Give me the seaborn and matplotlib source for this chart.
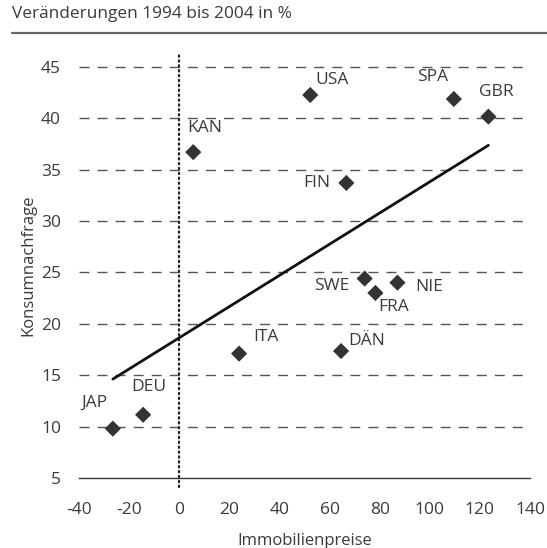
import matplotlib
matplotlib.use("Agg")
import matplotlib.pyplot as plt
import seaborn as sns
import numpy as np
import pandas as pd

countries = ["JAP", "DEU", "ITA", "KAN", "USA", "SPA", "GBR", "FIN", "SWE", "FRA", "NIE", "DÄN"]
immobilienpreise = [-26.5, -14.4, 23.9, 5.6, 52.3, 109.6, 123.4, 66.7, 74.0, 78.3, 87.1, 64.6]
konsumnachfrage = [9.8, 11.15, 17.1, 36.7, 42.26, 41.87, 40.15, 33.7, 24.4, 23.0, 24.0, 17.35]
x_ticks = [-40, -20, 0, 20, 40, 60, 80, 100, 120, 140]
y_ticks = [5, 10, 15, 20, 25, 30, 35, 40, 45]

# label offsets in pixels (dx, dy, ha)
label_pos = {
    "JAP": (-5, 26, "right"), "DEU": (6, 28, "center"), "ITA": (14, 17, "left"),
    "KAN": (-6, 24, "left"), "USA": (5, 15, "left"), "SPA": (-6, 22, "right"),
    "GBR": (8, 25, "center"), "FIN": (-16, 0, "right"), "SWE": (-15, -7, "right"),
    "FRA": (3, -14, "left"), "NIE": (18, -4, "left"), "DÄN": (7, 10, "left"),
}

df = pd.DataFrame({"land": countries, "x": immobilienpreise, "y": konsumnachfrage})

sns.set_theme(style="white")
plt.rcParams["font.family"] = ["Open Sans", "DejaVu Sans"]
txt = "#3a3a3a"

fig = plt.figure(figsize=(5.47, 5.48), dpi=100)
ax = fig.add_axes([79/547, 1-478/548, (530-79)/547, (478-52)/548])

for yv in y_ticks[1:]:
    ax.axhline(yv, color="#555555", lw=1.0, ls=(0, (7.2, 5.8)), zorder=1)

ax.plot([0, 0], [4.15, 46.44], color="#222222", lw=1.6, ls=(0, (0.6, 1.6)),
        clip_on=False, zorder=2, solid_capstyle="round", dash_capstyle="round")

sns.regplot(data=df, x="x", y="y", ax=ax, scatter=False, ci=None,
            line_kws=dict(color="#111111", lw=2.0, zorder=3))
sns.scatterplot(data=df, x="x", y="y", ax=ax, marker="D", s=68,
                color="#333333", edgecolor="none", zorder=4)

for _, r in df.iterrows():
    dx, dy, ha = label_pos[r["land"]]
    ax.annotate(r["land"], (r["x"], r["y"]), xytext=(dx, dy), textcoords="offset pixels",
                ha=ha, va="center", fontsize=12.5, color=txt, zorder=5)

ax.set_xlim(-40, 140)
ax.set_ylim(5, 46.44)
ax.set_xticks(x_ticks)
ax.set_yticks(y_ticks)
ax.set_xticklabels([str(v) for v in x_ticks])
ax.set_yticklabels([str(v) for v in y_ticks])
ax.tick_params(axis="x", direction="out", length=5, width=1, color="#333333",
               labelsize=12.5, labelcolor=txt, pad=12)
ax.tick_params(axis="y", length=0, labelsize=12.5, labelcolor=txt, pad=13)
for s in ["top", "right", "left"]:
    ax.spines[s].set_visible(False)
ax.spines["bottom"].set_color("#333333")
ax.spines["bottom"].set_linewidth(1.0)
ax.set_xlabel("Immobilienpreise", fontsize=12, color=txt, labelpad=11)
ax.set_ylabel("Konsumnachfrage", fontsize=12, color=txt, labelpad=3)

fig.text(12/547, 1-14/548, "Veränderungen 1994 bis 2004 in %", fontsize=12.4,
         color=txt, ha="left", va="center")
fig.add_artist(plt.Line2D([12/547, 1.0], [1-33/548, 1-33/548], color="#666666", lw=1.6))

fig.savefig("out.png", dpi=100)
